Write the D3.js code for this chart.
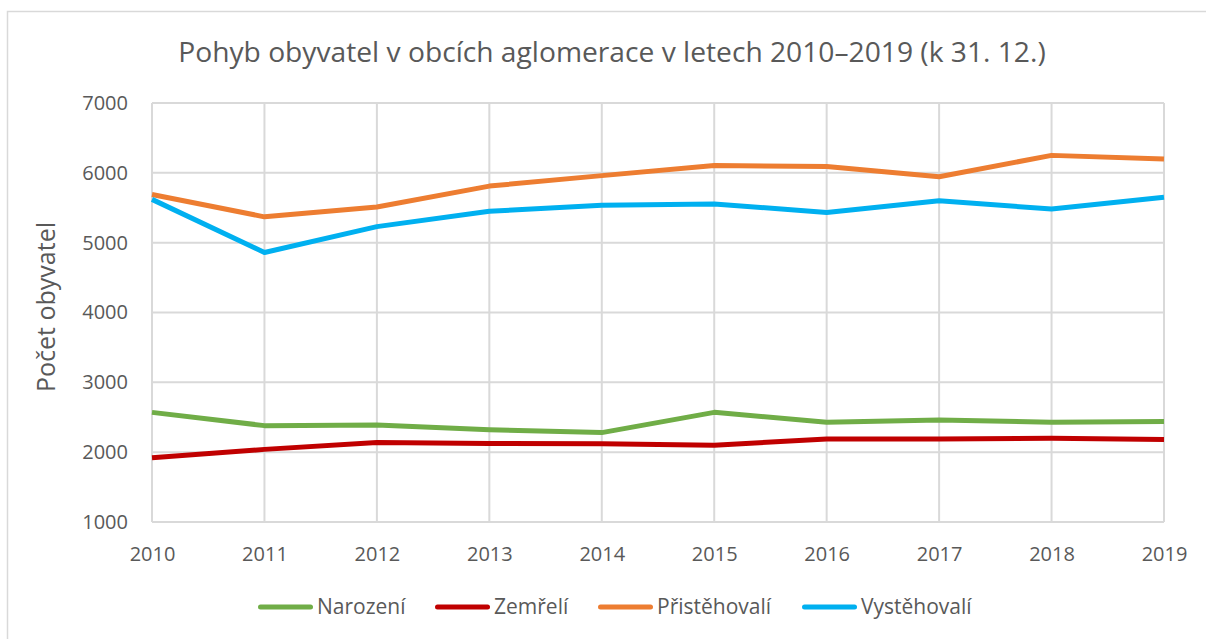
<!DOCTYPE html>
<html>
<head>
<meta charset="utf-8">
<script src="https://cdn.jsdelivr.net/npm/d3@7"></script>
<style>
  body { margin: 0; background: #fff; }
  text { font-family: "Open Sans", sans-serif; fill: #595959; }
</style>
</head>
<body>
<div id="chart"></div>
<script>
'use strict';

// data
var years = [2010, 2011, 2012, 2013, 2014, 2015, 2016, 2017, 2018, 2019];
var narozeni = [2570, 2380, 2390, 2320, 2280, 2570, 2430, 2460, 2430, 2440];
var zemreli = [1920, 2040, 2140, 2125, 2120, 2100, 2190, 2190, 2200, 2180];
var pristehovali = [5690, 5370, 5510, 5810, 5960, 6105, 6090, 5943, 6250, 6198];
var vystehovali = [5620, 4860, 5230, 5450, 5535, 5553, 5433, 5600, 5481, 5650];
var yTicks = [1000, 2000, 3000, 4000, 5000, 6000, 7000];

var series = [
  { name: 'Narození', values: narozeni, color: '#70ad47' },
  { name: 'Zemřelí', values: zemreli, color: '#c00000' },
  { name: 'Přistěhovalí', values: pristehovali, color: '#ed7d31' },
  { name: 'Vystěhovalí', values: vystehovali, color: '#00b0f0' }
];

// constants
var width = 1206,
    height = 639,
    plot = { left: 152, top: 103, right: 1164, bottom: 522 };

var svg = d3.select('#chart')
  .append('svg')
  .attr('width', width)
  .attr('height', height);

// outer frame
svg.append('rect')
  .attr('x', 7.5).attr('y', 11.5)
  .attr('width', 1210).attr('height', 640)
  .attr('fill', 'none')
  .attr('stroke', '#d9d9d9')
  .attr('stroke-width', 1.5);

var x = d3.scaleLinear()
  .domain([years[0], years[years.length - 1]])
  .range([plot.left, plot.right]);

var y = d3.scaleLinear()
  .domain([1000, 7000])
  .range([plot.bottom, plot.top]);

// title
svg.append('text')
  .attr('x', 612).attr('y', 62)
  .attr('text-anchor', 'middle')
  .style('font-size', '28.2px')
  .text('Pohyb obyvatel v obcích aglomerace v letech 2010–2019 (k 31. 12.)');

// grid
var grid = svg.append('g');
grid.selectAll('line.h')
  .data(yTicks)
  .enter().append('line')
  .attr('x1', plot.left).attr('x2', plot.right)
  .attr('y1', function(d) { return y(d); })
  .attr('y2', function(d) { return y(d); })
  .attr('stroke', '#d9d9d9').attr('stroke-width', 2);

grid.selectAll('line.v')
  .data(years)
  .enter().append('line')
  .attr('y1', plot.top).attr('y2', plot.bottom)
  .attr('x1', function(d) { return x(d); })
  .attr('x2', function(d) { return x(d); })
  .attr('stroke', '#d9d9d9').attr('stroke-width', 2);

// axes
var yAxis = svg.append('g')
  .attr('transform', 'translate(' + (plot.left - 24) + ',0)')
  .call(d3.axisLeft(y).tickValues(yTicks).tickSize(0).tickPadding(0).tickFormat(d3.format('d')));
yAxis.select('.domain').remove();
yAxis.selectAll('text').style('font-size', '20px').style('fill', '#595959');

var xAxis = svg.append('g')
  .attr('transform', 'translate(0,' + (plot.bottom + 25) + ')')
  .call(d3.axisBottom(x).tickValues(years).tickSize(0).tickPadding(0).tickFormat(d3.format('d')));
xAxis.select('.domain').remove();
xAxis.selectAll('text').style('font-size', '20px').style('fill', '#595959');

svg.append('text')
  .attr('transform', 'translate(55,307) rotate(-90)')
  .attr('text-anchor', 'middle')
  .style('font-size', '25px')
  .text('Počet obyvatel');

// lines
var line = d3.line()
  .x(function(d, i) { return x(years[i]); })
  .y(function(d) { return y(d); });

svg.selectAll('path.series')
  .data(series)
  .enter().append('path')
  .attr('class', 'series')
  .attr('d', function(d) { return line(d.values); })
  .attr('fill', 'none')
  .attr('stroke', function(d) { return d.color; })
  .attr('stroke-width', 5)
  .attr('stroke-linejoin', 'round');

// legend
var legendX = [258, 435, 598, 802];
var legend = svg.selectAll('g.legend')
  .data(series)
  .enter().append('g')
  .attr('class', 'legend')
  .attr('transform', function(d, i) { return 'translate(' + legendX[i] + ',607)'; });

legend.append('line')
  .attr('x1', 2.5).attr('x2', 52.5)
  .attr('stroke', function(d) { return d.color; })
  .attr('stroke-width', 5)
  .attr('stroke-linecap', 'round');

legend.append('text')
  .attr('x', 59).attr('dy', '0.35em')
  .style('font-size', '21px')
  .text(function(d) { return d.name; });
</script>
</body>
</html>
